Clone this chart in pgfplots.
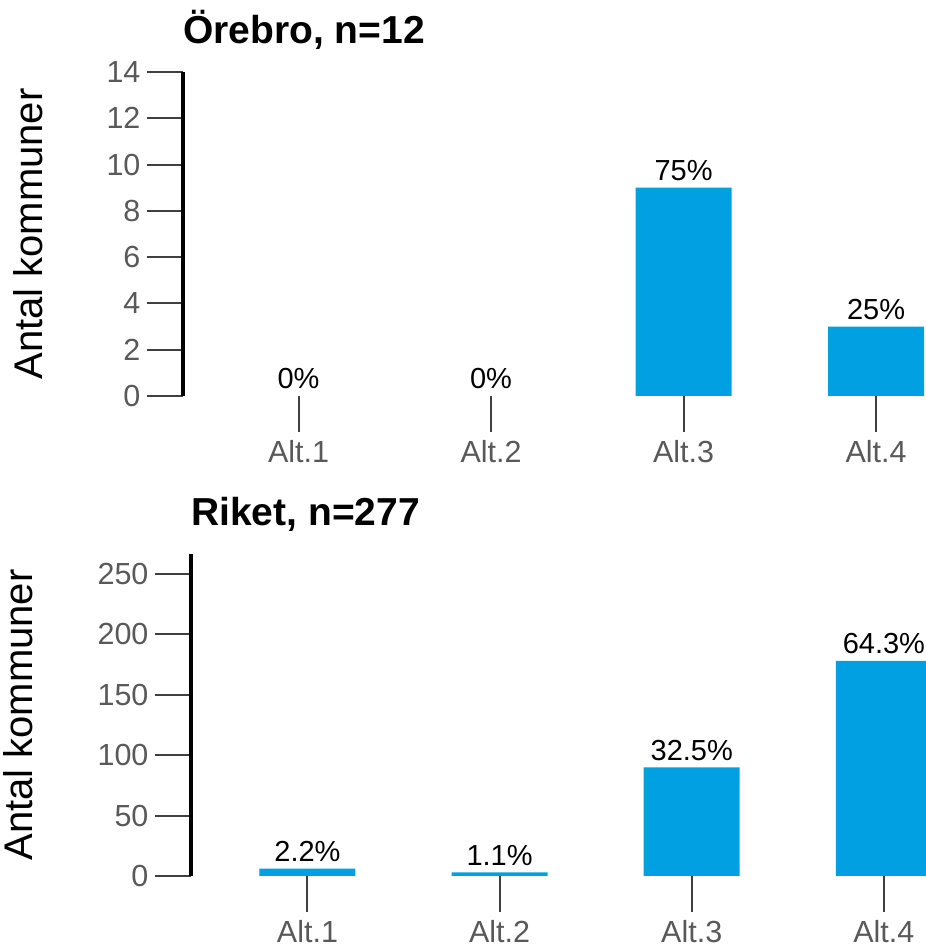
\documentclass[border=0pt]{standalone}
\usepackage{fontspec}
\setmainfont{Liberation Sans}
\usepackage{pgfplots}
\pgfplotsset{compat=1.18}
\definecolor{barblue}{RGB}{0,160,226}
\definecolor{tickgray}{RGB}{64,64,64}
\definecolor{labelgray}{RGB}{89,89,89}

\pgfplotsset{
  panel/.style={
    scale only axis,
    ybar, bar width=96pt, bar shift=0pt,
    axis x line=bottom, axis y line=left,
    axis line style={-},
    x axis line style={draw=none},
    y axis line style={line width=3.5pt, black},
    tick align=outside, major tick length=36pt,
    tick style={line width=2pt, tickgray},
    xtick={1,2,3,4}, xticklabels={Alt.1,Alt.2,Alt.3,Alt.4},
    ymin=0,
    tick label style={font=\fontsize{30.5}{30.5}\selectfont, labelgray},
    xticklabel style={yshift=-5pt},
    yticklabel style={xshift=-3pt},
    /pgf/number format/assume math mode=true,
    ylabel={Antal kommuner},
    label style={font=\fontsize{40}{40}\selectfont},
    title style={font=\fontsize{39}{39}\selectfont\bfseries, anchor=base west,
      inner sep=0pt, at={(axis description cs:0,1)}, yshift=22pt},
    point meta=explicit symbolic,
    nodes near coords,
    nodes near coords style={font=\fontsize{29}{29}\selectfont, black,
      anchor=base, inner sep=0pt, yshift=7pt},
    clip=false,
  }
}

\begin{document}
\begin{tikzpicture}
\useasboundingbox (0pt,0pt) rectangle (925pt,949pt);

% Örebro
\begin{axis}[panel,
    at={(183pt,553pt)}, anchor=south west,
    width=742pt, height=324pt,
    xmin=0.4, xmax=4.254, ymax=14,
    ytick={0,2,...,14},
    ylabel style={at={(axis description cs:-0.1887,0.5)}, anchor=base},
    title={Örebro, n=12}]
\addplot[fill=barblue, draw=none] coordinates {
  (3,9) [75\%] (4,3) [25\%]};
% zero counts: label only, no bar
\addplot[fill=none, draw=none] coordinates {
  (1,0) [0\%] (2,0) [0\%]};
\end{axis}

% Riket
\begin{axis}[panel,
    at={(191pt,73pt)}, anchor=south west,
    width=734pt, height=322pt,
    xmin=0.394, xmax=4.214, ymax=266.5,
    ytick={0,50,...,250},
    ylabel style={at={(axis description cs:-0.2153,0.5)}, anchor=base},
    title={Riket, n=277}]
\addplot[fill=barblue, draw=none] coordinates {
  (1,6) [2.2\%] (2,3) [1.1\%] (3,90) [32.5\%] (4,178) [64.3\%]};
\end{axis}
\end{tikzpicture}
\end{document}
